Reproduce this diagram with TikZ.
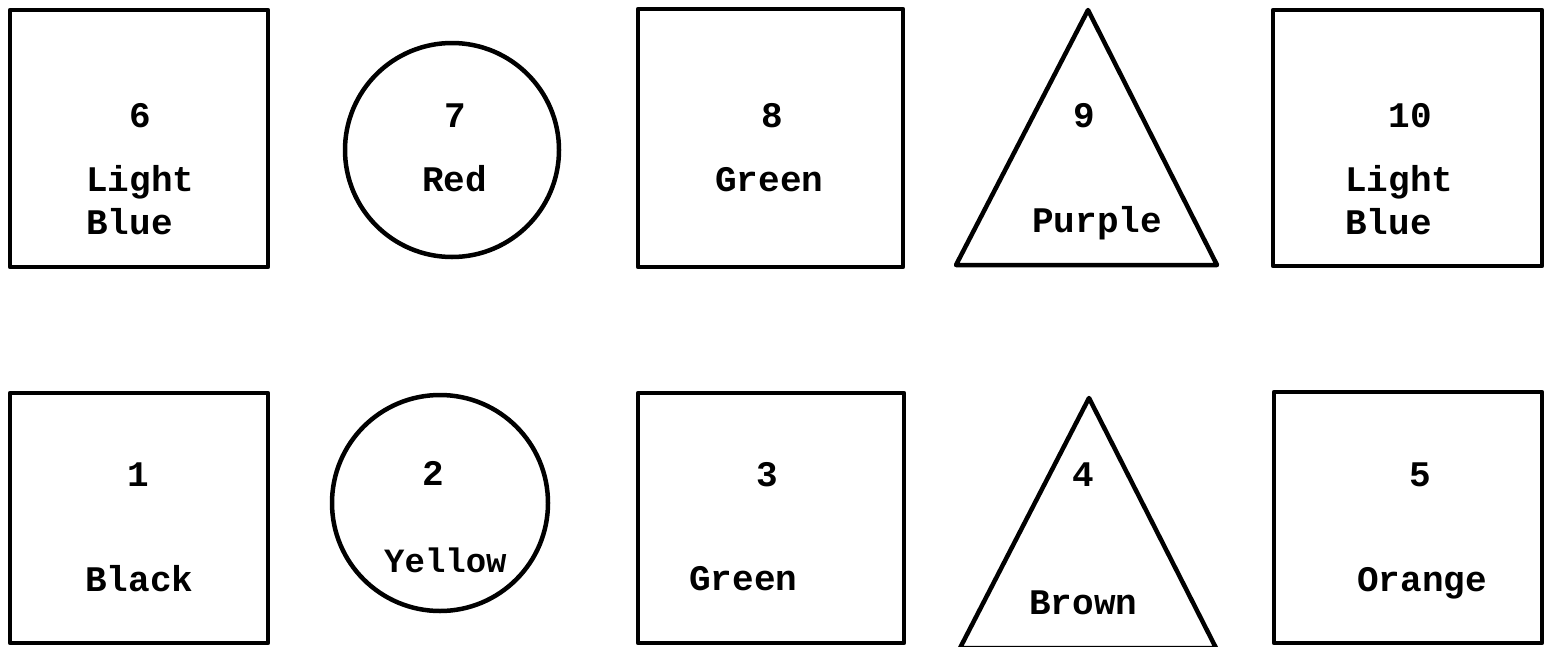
\documentclass[tikz,border=0pt]{standalone}
\usepackage{fontspec}
\setmonofont{Liberation Mono}
\begin{document}
\begin{tikzpicture}[x=1pt,y=-1pt,
  shp/.style={draw=black, line width=4.5pt, line join=round},
  boxshape/.style={shp, rectangle, inner sep=0pt},
  circshape/.style={shp, circle, inner sep=0pt},
  lbl/.style={font=\fontsize{36}{40}\selectfont\ttfamily\bfseries, inner sep=0pt, text=black},
  narrowlbl/.style={lbl, font=\fontsize{34}{40}\selectfont\ttfamily\bfseries}]
\useasboundingbox (0,0) rectangle (1555,646);

% top row shapes
\node[boxshape, minimum width=258pt, minimum height=257pt] (s6) at (139,138.5) {};
\node[circshape, minimum size=214pt] (c7) at (452,150) {};
\node[boxshape, minimum width=265pt, minimum height=258pt] (s8) at (770.5,138) {};
\coordinate (t9a) at (1088,10);
\coordinate (t9l) at (956,265);
\coordinate (t9r) at (1217,265);
\draw[shp] (t9a) -- (t9l) -- (t9r) -- cycle;
\node[boxshape, minimum width=269pt, minimum height=256pt] (s10) at (1407.5,138) {};

% bottom row shapes
\node[boxshape, minimum width=258pt, minimum height=250pt] (s1) at (139,518) {};
\node[circshape, minimum size=216pt] (c2) at (440,503) {};
\node[boxshape, minimum width=266pt, minimum height=250pt] (s3) at (771,518) {};
\coordinate (t4a) at (1089,398);
\coordinate (t4l) at (960,648);
\coordinate (t4r) at (1216,648);
\draw[shp] (t4a) -- (t4l) -- (t4r) -- cycle;
\node[boxshape, minimum width=268pt, minimum height=251pt] (s5) at (1408,517.5) {};

% top labels
\node[lbl, anchor=base] (n6) at (140,127) {6};
\node[lbl, anchor=base west] (w6a) at (86,191) {Light};
\node[lbl, anchor=base west] (w6b) at (86,234) {Blue};
\node[lbl, anchor=base] (n7) at (455,127) {7};
\node[lbl, anchor=base west] (w7) at (422,191) {Red};
\node[lbl, anchor=base] (n8) at (772,127) {8};
\node[lbl, anchor=base west] (w8) at (715,191) {Green};
\node[lbl, anchor=base] (n9) at (1084,127) {9};
\node[lbl, anchor=base west] (w9) at (1032,232) {Purple};
\node[lbl, anchor=base] (n10) at (1410,127) {10};
\node[lbl, anchor=base west] (w10a) at (1345,191) {Light};
\node[lbl, anchor=base west] (w10b) at (1345,234) {Blue};

% bottom labels
\node[lbl, anchor=base] (n1) at (138,486) {1};
\node[lbl, anchor=base west] (w1) at (85,591) {Black};
\node[lbl, anchor=base] (n2) at (433,485) {2};
\node[narrowlbl, anchor=base west] (w2) at (384,572) {Yellow};
\node[lbl, anchor=base] (n3) at (767,486) {3};
\node[lbl, anchor=base west] (w3) at (689,590) {Green};
\node[lbl, anchor=base] (n4) at (1083,486) {4};
\node[lbl, anchor=base west] (w4) at (1029,614) {Brown};
\node[lbl, anchor=base] (n5) at (1420,486) {5};
\node[lbl, anchor=base west] (w5) at (1357,591) {Orange};
\end{tikzpicture}
\end{document}
